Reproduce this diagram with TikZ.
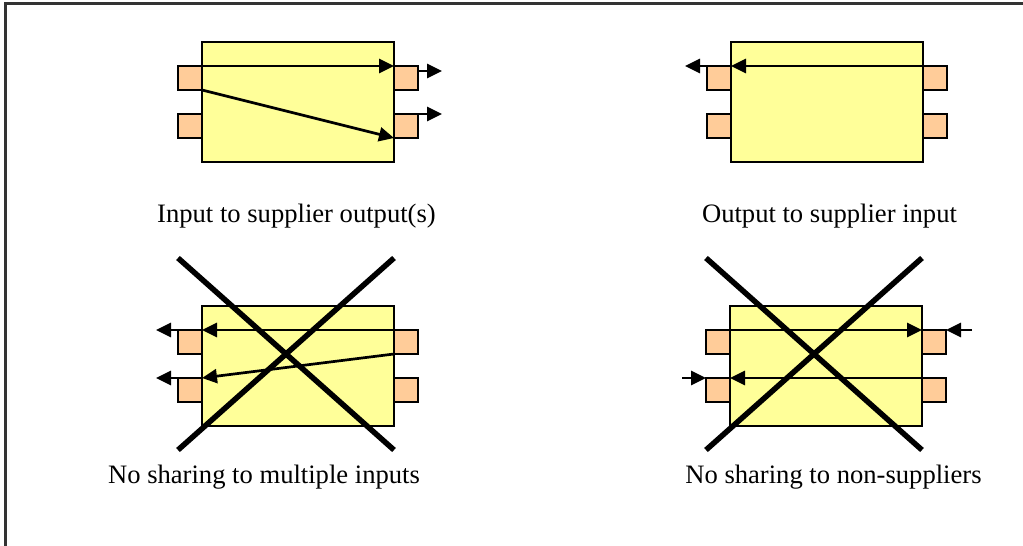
\documentclass[tikz,border=0pt]{standalone}
\usepackage{fontspec}
\setmainfont{Liberation Serif}
\usetikzlibrary{arrows.meta}
\definecolor{boxyellow}{HTML}{FFFF99}
\definecolor{portorange}{HTML}{FFCC99}
\definecolor{framegray}{HTML}{333333}
\tikzset{
  mainbox/.style={draw=black, line width=2.5pt, fill=boxyellow, minimum width=192pt, minimum height=120pt, inner sep=0pt, outer sep=0pt},
  portbox/.style={draw=black, line width=2.5pt, fill=portorange, minimum width=24pt, minimum height=24pt, inner sep=0pt, outer sep=0pt},
  flow/.style={line width=2.7pt, -{Triangle[length=15pt,width=14pt]}},
  crossline/.style={line width=5.5pt},
  caption/.style={font=\fontsize{26.6pt}{30pt}\selectfont, anchor=base, inner sep=0pt},
}
\begin{document}
\begin{tikzpicture}[x=1pt,y=-1pt]
\useasboundingbox (0,0) rectangle (1023,546);
\draw[framegray, line width=2.2pt] (1030,3.5) -- (5.5,3.5) -- (5.5,560);

% Panel 1
\node[mainbox] (b1) at (298,102) {};
\node[portbox] (b1l1) at (190,78) {};
\node[portbox] (b1l2) at (190,126) {};
\node[portbox] (b1r1) at (406,78) {};
\node[portbox] (b1r2) at (406,126) {};
\draw[flow] (b1l1.north east) -- (b1r1.north west);
\draw[flow] (b1l1.south east) -- (b1r2.south west);
\coordinate (b1o1) at (442,71);
\coordinate (b1o2) at (442,114);
\draw[flow] (b1r1.east |- b1o1) -- (b1o1);
\draw[flow] (b1r2.east |- b1o2) -- (b1o2);
\node[caption] (c1) at (296.5,222) {Input to supplier output(s)};

% Panel 2
\node[mainbox] (b2) at (827,102) {};
\node[portbox] (b2l1) at (719,78) {};
\node[portbox] (b2l2) at (719,126) {};
\node[portbox] (b2r1) at (935,78) {};
\node[portbox] (b2r2) at (935,126) {};
\draw[flow] (b2r1.north west) -- (b2l1.north east);
\coordinate (b2o1) at (685,66);
\draw[flow] (b2l1.north west) -- (b2o1);
\node[caption] (c2) at (829.5,222) {Output to supplier input};

% Panel 3
\node[mainbox] (b3) at (298,366) {};
\node[portbox] (b3l1) at (190,342) {};
\node[portbox] (b3l2) at (190,390) {};
\node[portbox] (b3r1) at (406,342) {};
\node[portbox] (b3r2) at (406,390) {};
\draw[flow] (b3r1.north west) -- (b3l1.north east);
\draw[flow] (b3r1.south west) -- (b3l2.north east);
\coordinate (b3o1) at (156,330);
\coordinate (b3o2) at (156,378);
\draw[flow] (b3l1.north west) -- (b3o1);
\draw[flow] (b3l2.north west) -- (b3o2);
\coordinate (x3a) at (178,258);
\coordinate (x3b) at (394,450);
\coordinate (x3c) at (394,258);
\coordinate (x3d) at (178,450);
\draw[crossline] (x3a) -- (x3b);
\draw[crossline] (x3c) -- (x3d);
\node[caption] (c3) at (264,483) {No sharing to multiple inputs};

% Panel 4
\node[mainbox] (b4) at (826,366) {};
\node[portbox] (b4l1) at (718,342) {};
\node[portbox] (b4l2) at (718,390) {};
\node[portbox] (b4r1) at (934,342) {};
\node[portbox] (b4r2) at (934,390) {};
\draw[flow] (b4l1.north east) -- (b4r1.north west);
\draw[flow] (b4r2.north west) -- (b4l2.north east);
\coordinate (b4i1) at (972,330);
\coordinate (b4i2) at (682,378);
\draw[flow] (b4i1) -- (b4r1.north east);
\draw[flow] (b4i2) -- (b4l2.north west);
\coordinate (x4a) at (706,258);
\coordinate (x4b) at (922,450);
\coordinate (x4c) at (922,258);
\coordinate (x4d) at (706,450);
\draw[crossline] (x4a) -- (x4b);
\draw[crossline] (x4c) -- (x4d);
\node[caption] (c4) at (833.5,483) {No sharing to non-suppliers};
\end{tikzpicture}
\end{document}
